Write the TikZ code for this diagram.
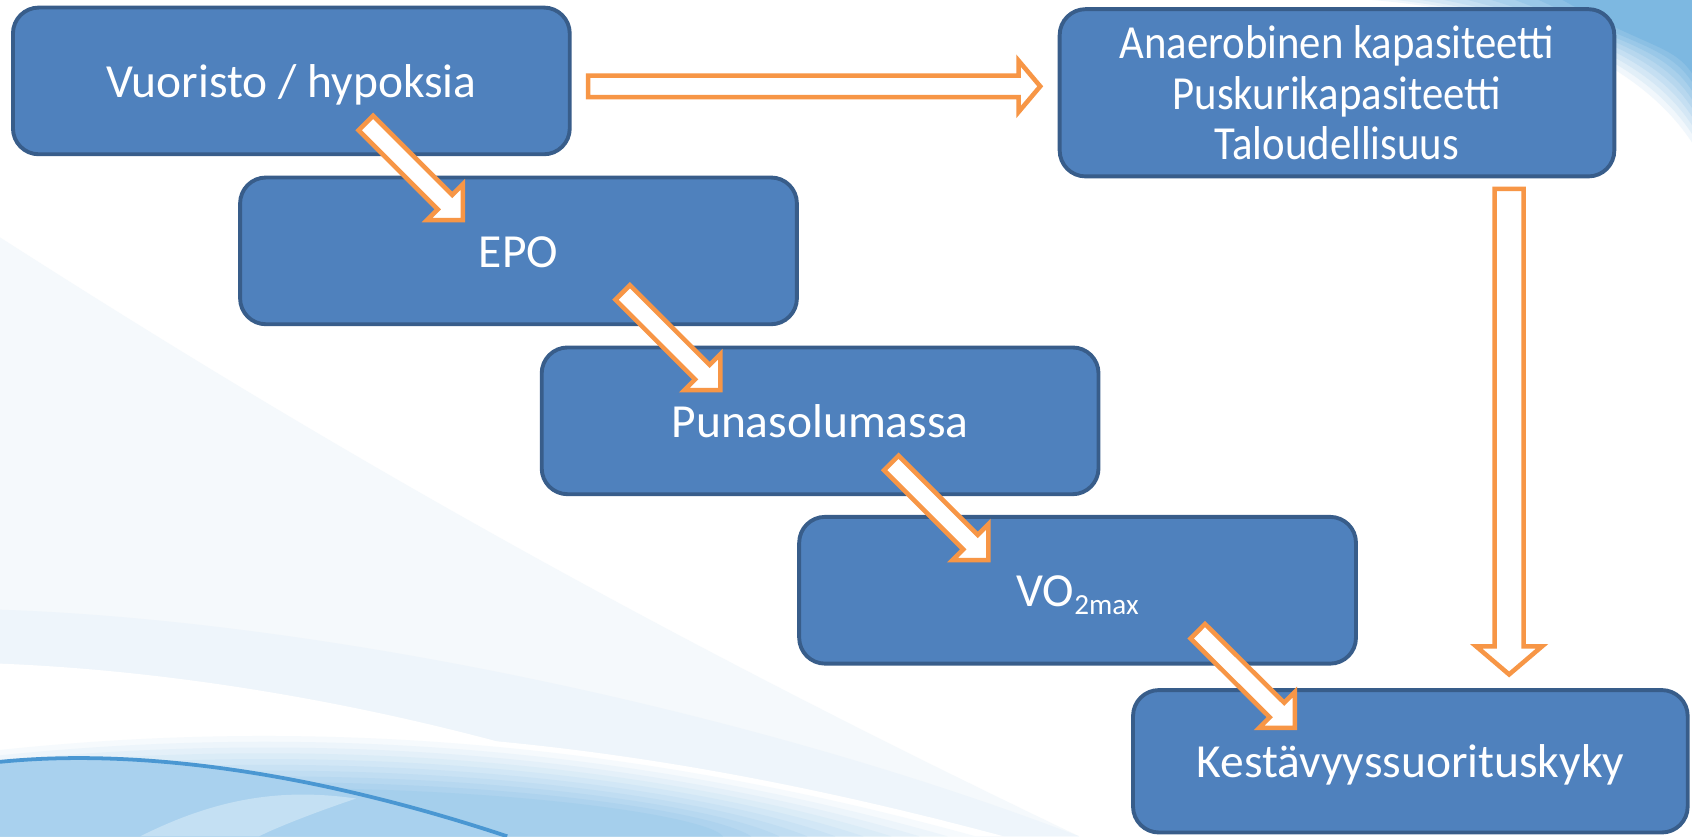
\documentclass[tikz,border=0pt]{standalone}
\usepackage{fontspec}
\setmainfont{Carlito}
\newfontfamily\narrowfont[FakeStretch=0.9]{Carlito}
\usetikzlibrary{calc}
\definecolor{boxfill}{HTML}{4F81BD}
\definecolor{boxline}{HTML}{385D8A}
\definecolor{arrline}{HTML}{F79646}
\definecolor{bgfaint}{HTML}{EEF5FB}
\definecolor{bgleft}{HTML}{F5F9FC}
\definecolor{bglight}{HTML}{C4E0F3}
\definecolor{bgmid}{HTML}{A0CCEB}
\definecolor{bgdeep}{HTML}{A9D1EE}
\definecolor{bgline}{HTML}{4A97D2}
\definecolor{bgtr}{HTML}{6FB0DE}
\newcommand\blockarrow[5]{%
  \path ($(#2)!#5!(#1)$) coordinate (hb);
  \draw[blockarr] ($(#1)!#3!90:(#2)$) -- ($(hb)!#3!-90:(#1)$) -- ($(hb)!#4!-90:(#1)$) -- (#2)
    -- ($(hb)!#4!90:(#1)$) -- ($(hb)!#3!90:(#1)$) -- ($(#1)!#3!-90:(#2)$) -- cycle;
}
\begin{document}
\begin{tikzpicture}[x=1pt,y=-1pt,
  boxbase/.style={rectangle, draw=boxline, fill=boxfill, line width=3.6pt,
    rounded corners=24pt, text=white, inner sep=0pt, outer sep=0pt,
    minimum width=516pt, minimum height=136pt},
  box/.style={boxbase, font=\fontsize{44}{47}\selectfont, text height=30pt, text depth=0pt},
  blockarr/.style={draw=arrline, fill=white, line width=4.2pt, line join=miter}]
\useasboundingbox (0,0) rectangle (1568,775);
% background
\fill[white] (0,0) rectangle (1568,775);
\fill[bgleft] (0,220) .. controls (250,380) and (550,560) .. (1000,775) -- (0,775) -- cycle;
\fill[bgfaint] (0,565) .. controls (300,575) and (700,660) .. (1000,775) -- (0,775) -- cycle;
\fill[white] (0,615) .. controls (250,625) and (520,690) .. (720,775) -- (0,775) -- cycle;
\foreach \k [evaluate=\k as \p using \k*9.5] in {0,...,10}
  \fill[bgmid!\p!white] (0,{690+5*\k}) .. controls (350,{652+6*\k}) and (650,{700+5*\k}) .. ({930-26*\k},775) -- (0,775) -- cycle;
\fill[bgdeep] (0,706) .. controls (120,694) and (280,712) .. (470,775) -- (0,775) -- cycle;
\fill[bglight] (130,775) .. controls (200,740) and (260,730) .. (330,740) .. controls (300,750) and (260,765) .. (240,775) -- cycle;
\draw[bgline, line width=3.5pt] (0,706) .. controls (120,694) and (280,712) .. (470,775);
\foreach \k [evaluate=\k as \p using \k*10] in {0,...,9}
  \fill[bgtr!\p!white] ({1250+22*\k},0) .. controls ({1400+14*\k},{8+4*\k}) and ({1515+4*\k},{60-2*\k}) .. (1568,{140-8*\k}) -- (1568,0) -- cycle;
% boxes
\node[box] (A) at (270,75) {Vuoristo / hypoksia};
\node[boxbase, minimum width=514pt, minimum height=155pt, align=center,
  font=\narrowfont\fontsize{44}{47}\selectfont] (B) at (1239,86)
  {Anaerobinen kapasiteetti\\Puskurikapasiteetti\\Taloudellisuus};
\node[box] (C) at (480.5,232.5) {EPO};
\node[box] (D) at (760,390) {Punasolumassa};
\node[box] (E) at (998.6,547) {VO\raisebox{-7pt}{\fontsize{27}{27}\selectfont 2max}};
\node[box, minimum width=514pt, minimum height=132pt] (F) at (1307,705.5) {Kestävyyssuorituskyky};
% arrow end points
\coordinate (h1) at ($(A.east)+(17,5)$);
\coordinate (h2) at ($(B.west)+(-18,-6)$);
\coordinate (v1) at ($(B.south)+(159.5,11.5)$);
\coordinate (v2) at ($(F.north)+(91.5,-14.5)$);
\coordinate (d1a) at ($(A.south)+(69,-29)$);
\coordinate (d1b) at ($(C.north)+(-51.5,39.5)$);
\coordinate (d2a) at ($(C.south)+(96.5,-29.5)$);
\coordinate (d2b) at ($(D.north)+(-92.5,39.5)$);
\coordinate (d3a) at ($(D.south)+(66,-29)$);
\coordinate (d3b) at ($(E.north)+(-82.6,40)$);
\coordinate (d4a) at ($(E.south)+(111.4,-30)$);
\coordinate (d4b) at ($(F.north)+(-107,35)$);
% arrows
\blockarrow{h1}{h2}{10pt}{23.7pt}{20pt}
\blockarrow{v1}{v2}{13.5pt}{30.5pt}{26pt}
\blockarrow{d1a}{d1b}{9.5pt}{23.5pt}{23.5pt}
\blockarrow{d2a}{d2b}{9.5pt}{23.5pt}{23.5pt}
\blockarrow{d3a}{d3b}{9.5pt}{23.5pt}{23.5pt}
\blockarrow{d4a}{d4b}{9.5pt}{23.5pt}{23.5pt}
\end{tikzpicture}
\end{document}
